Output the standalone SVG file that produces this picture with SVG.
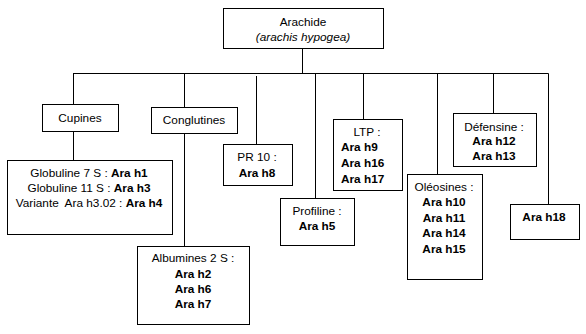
<svg xmlns="http://www.w3.org/2000/svg" width="586" height="334" viewBox="0 0 586 334">
<style>
.n{fill:#fff;stroke:#000;stroke-width:1}
line{stroke:#000;stroke-width:1}
text{font-family:"Liberation Sans",Arial,sans-serif;font-size:11.8px;fill:#000}
.c{text-anchor:middle}
.b{font-weight:bold}
.i{font-style:italic}
</style>
<rect width="586" height="334" fill="#fff"/>
<g id="connectors">
<line x1="302.5" y1="48" x2="302.5" y2="73.5"/>
<line x1="73" y1="73.5" x2="548.5" y2="73.5"/>
<line x1="73.5" y1="73.5" x2="73.5" y2="104"/>
<line x1="184.5" y1="73.5" x2="184.5" y2="107"/>
<line x1="256.5" y1="76" x2="256.5" y2="144"/>
<line x1="315.5" y1="73.5" x2="315.5" y2="198"/>
<line x1="363.5" y1="73.5" x2="363.5" y2="119"/>
<line x1="437.5" y1="73.5" x2="437.5" y2="174"/>
<line x1="493.5" y1="73.5" x2="493.5" y2="113"/>
<line x1="548.5" y1="73.5" x2="548.5" y2="204"/>
<line x1="73.5" y1="131" x2="73.5" y2="160"/>
<line x1="184.5" y1="133" x2="184.5" y2="246"/>
</g>
<g id="arachide">
<rect class="n" x="223.5" y="8.5" width="160" height="40"/>
<text class="c" x="303" y="26">Arachide</text>
<text class="c i" x="303" y="41">(arachis hypogea)</text>
</g>
<g id="cupines">
<rect class="n" x="42.5" y="104.5" width="76" height="27"/>
<text class="c" x="80" y="122">Cupines</text>
</g>
<g id="conglutines">
<rect class="n" x="151.5" y="107.5" width="86" height="26"/>
<text class="c" x="194" y="124">Conglutines</text>
</g>
<g id="globulines">
<rect class="n" x="7.5" y="160.5" width="165" height="74"/>
<text class="c" x="89" y="177">Globuline 7 S : <tspan class="b">Ara h1</tspan></text>
<text class="c" x="89" y="192">Globuline 11 S : <tspan class="b">Ara h3</tspan></text>
<text class="c" x="89" y="207">Variante&#160; Ara h3.02 : <tspan class="b">Ara h4</tspan></text>
</g>
<g id="albumines">
<rect class="n" x="137.5" y="246.5" width="112" height="78"/>
<text class="c" x="193" y="262">Albumines 2 S :</text>
<text class="c b" x="193" y="278">Ara h2</text>
<text class="c b" x="193" y="293">Ara h6</text>
<text class="c b" x="193" y="308">Ara h7</text>
</g>
<g id="pr10">
<rect class="n" x="223.5" y="144.5" width="69" height="41"/>
<text class="c" x="257" y="161">PR 10 :</text>
<text class="c b" x="257" y="177">Ara h8</text>
</g>
<g id="profiline">
<rect class="n" x="280.5" y="198.5" width="74" height="47"/>
<text class="c" x="317" y="215">Profiline :</text>
<text class="c b" x="317" y="230">Ara h5</text>
</g>
<g id="ltp">
<rect class="n" x="333.5" y="119.5" width="69" height="71"/>
<text class="c" x="367" y="136">LTP :</text>
<text class="b" x="341" y="151">Ara h9</text>
<text class="b" x="341" y="167">Ara h16</text>
<text class="b" x="341" y="183">Ara h17</text>
</g>
<g id="oleosines">
<rect class="n" x="407.5" y="174.5" width="75" height="105"/>
<text class="c" x="444" y="191">Oléosines :</text>
<text class="c b" x="444" y="206">Ara h10</text>
<text class="c b" x="444" y="222">Ara h11</text>
<text class="c b" x="444" y="237">Ara h14</text>
<text class="c b" x="444" y="253">Ara h15</text>
</g>
<g id="defensine">
<rect class="n" x="453.5" y="113.5" width="83" height="53"/>
<text class="c" x="494" y="131">Défensine :</text>
<text class="c b" x="494" y="145">Ara h12</text>
<text class="c b" x="494" y="160">Ara h13</text>
</g>
<g id="arah18">
<rect class="n" x="510.5" y="204.5" width="69" height="35"/>
<text class="c b" x="544" y="221">Ara h18</text>
</g>
</svg>
